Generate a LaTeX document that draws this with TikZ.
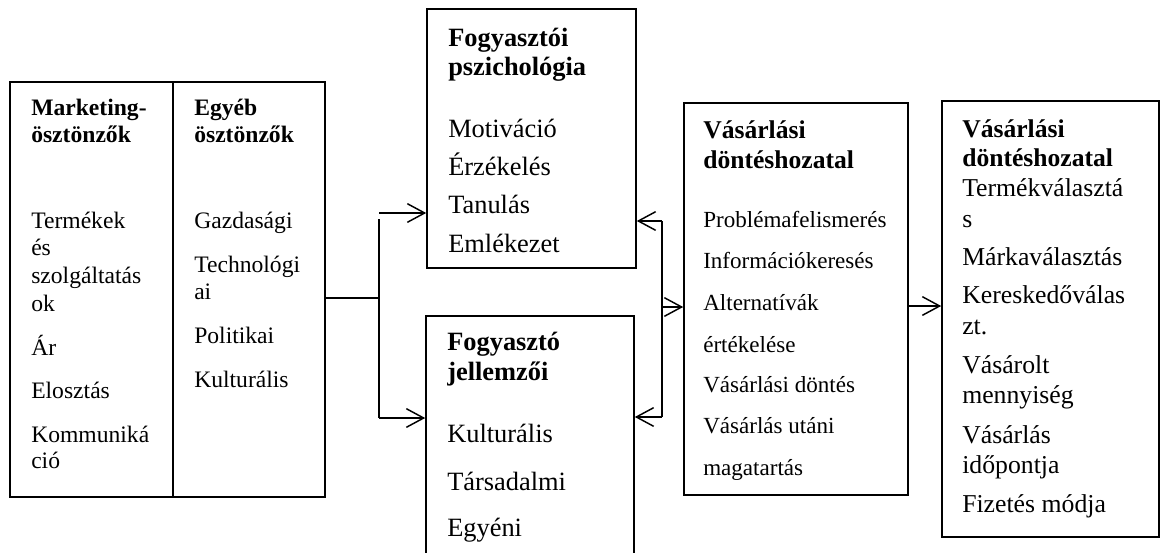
\documentclass[tikz,border=0pt]{standalone}
\usepackage{fontspec}
\setmainfont{Liberation Serif}
\usetikzlibrary{arrows.meta,fit}

% type sizes used in the boxes
\newcommand\fsA{\fontsize{17.7}{20}\selectfont}   % stimuli columns
\newcommand\fsB{\fontsize{19.8}{22}\selectfont}   % consumer boxes
\newcommand\fsC{\fontsize{17.3}{20}\selectfont}   % decision steps
\newcommand\fsD{\fontsize{19.2}{22}\selectfont}   % decision headings
\newcommand\fsE{\fontsize{19.3}{22}\selectfont}   % buyer responses

\tikzset{
  box/.style={draw, line width=1.2pt, inner sep=0pt},
  txt/.style={anchor=base west, inner sep=0pt},
  conn/.style={line width=1.1pt},
  arr/.style={-{Straight Barb[length=13pt,width=14pt]}},
}

\begin{document}
\begin{tikzpicture}[x=0.75pt,y=-0.75pt]
\clip (0,0) rectangle (1160,553);
\fill[white] (0,0) rectangle (1160,553);

% boxes
\node[box, fit={(10,82) (173,497)}]   (mkt)   {};
\node[box, fit={(173,82) (325,497)}]  (egy)   {};
\node[box, fit={(427,9) (636,268)}]   (psych) {};
\node[box, fit={(426,316) (634,575)}] (jell)  {};
\node[box, fit={(684,103) (908,495)}] (vas)   {};
\node[box, fit={(942,101) (1159,537)}] (res)  {};

% marketing stimuli
\node[txt] (m1) at (31,115) {\fsA\bfseries Marketing-};
\node[txt] (m2) at (31,142) {\fsA\bfseries ösztönzők};
\node[txt] (m3) at (31,228) {\fsA Termékek};
\node[txt] (m4) at (31,255) {\fsA és};
\node[txt] (m5) at (31,283) {\fsA szolgáltatás};
\node[txt] (m6) at (31,311) {\fsA ok};
\node[txt] (m7) at (31,355) {\fsA Ár};
\node[txt] (m8) at (31,398) {\fsA Elosztás};
\node[txt] (m9) at (31,442) {\fsA Kommuniká};
\node[txt] (m10) at (31,468) {\fsA ció};

% other stimuli
\node[txt] (e1) at (194,115) {\fsA\bfseries Egyéb};
\node[txt] (e2) at (194,142) {\fsA\bfseries ösztönzők};
\node[txt] (e3) at (194,228) {\fsA Gazdasági};
\node[txt] (e4) at (194,272) {\fsA Technológi};
\node[txt] (e5) at (194,299) {\fsA ai};
\node[txt] (e6) at (194,343) {\fsA Politikai};
\node[txt] (e7) at (194,387) {\fsA Kulturális};

% consumer psychology
\node[txt] (p1) at (448,46)  {\fsB\bfseries Fogyasztói};
\node[txt] (p2) at (448,75)  {\fsB\bfseries pszichológia};
\node[txt] (p3) at (448,137) {\fsB Motiváció};
\node[txt] (p4) at (448,175) {\fsB Érzékelés};
\node[txt] (p5) at (448,213) {\fsB Tanulás};
\node[txt] (p6) at (448,252) {\fsB Emlékezet};

% consumer characteristics
\node[txt] (j1) at (447,350) {\fsB\bfseries Fogyasztó};
\node[txt] (j2) at (447,380) {\fsB\bfseries jellemzői};
\node[txt] (j3) at (447,442) {\fsB Kulturális};
\node[txt] (j4) at (447,490) {\fsB Társadalmi};
\node[txt] (j5) at (447,536) {\fsB Egyéni};

% buying decision process
\node[txt] (v1) at (703,138) {\fsD\bfseries Vásárlási};
\node[txt] (v2) at (703,168) {\fsD\bfseries döntéshozatal};
\node[txt] (v3) at (703,227) {\fsC Problémafelismerés};
\node[txt] (v4) at (703,268) {\fsC Információkeresés};
\node[txt] (v5) at (703,310) {\fsC Alternatívák};
\node[txt] (v6) at (703,352) {\fsC értékelése};
\node[txt] (v7) at (703,392) {\fsC Vásárlási döntés};
\node[txt] (v8) at (703,433) {\fsC Vásárlás utáni};
\node[txt] (v9) at (703,475) {\fsC magatartás};

% buyer's decisions
\node[txt] (r1) at (962,137) {\fsD\bfseries Vásárlási};
\node[txt] (r2) at (962,166) {\fsD\bfseries döntéshozatal};
\node[txt] (r3) at (962,196) {\fsE Termékválasztá};
\node[txt] (r4) at (962,227) {\fsE s};
\node[txt] (r5) at (962,265) {\fsE Márkaválasztás};
\node[txt] (r6) at (962,303) {\fsE Kereskedőválas};
\node[txt] (r7) at (962,334) {\fsE zt.};
\node[txt] (r8) at (962,373) {\fsE Vásárolt};
\node[txt] (r9) at (962,403) {\fsE mennyiség};
\node[txt] (r10) at (962,443) {\fsE Vásárlás};
\node[txt] (r11) at (962,473) {\fsE időpontja};
\node[txt] (r12) at (962,512) {\fsE Fizetés módja};

% stimuli to the consumer
\coordinate (lj) at (379,298);
\coordinate (lt) at (379,213);
\coordinate (lv) at (379,219);
\coordinate (lb) at (379,418);
\draw[conn] (egy.east |- lj) -- (lj);
\draw[conn] (lv) -- (lb);
\draw[conn,arr] (lt) -- (lt -| psych.west);
\draw[conn,arr] (lb) -- (lb -| jell.west);

% consumer to the decision process and back
\coordinate (rt) at (662,221);
\coordinate (rm) at (662,307);
\coordinate (rb) at (662,417);
\draw[conn] (rt) -- (rb);
\draw[conn,arr] (rt) -- (rt -| psych.east);
\draw[conn,arr] (rb) -- (rb -| jell.east);
\draw[conn,arr] (rm) -- (rm -| vas.west);

% decision process to buyer's decisions
\coordinate (dv) at (908,306);
\draw[conn,arr] (dv) -- (dv -| res.west);
\end{tikzpicture}
\end{document}
